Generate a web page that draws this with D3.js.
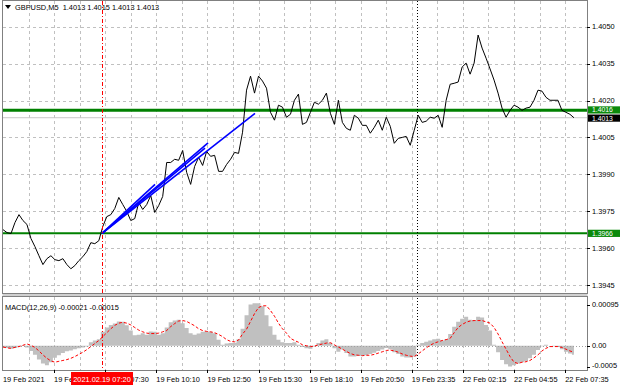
<!DOCTYPE html>
<html><head><meta charset="utf-8">
<script src="https://cdn.jsdelivr.net/npm/d3@7"></script>
<style>
html,body{margin:0;padding:0;background:#fff;}
svg{display:block;font-family:"Liberation Sans",Arial,sans-serif;}
</style></head><body>
<svg id="chart" width="620" height="388"></svg>
<script>
// GBPUSD M5 closes, one value every 2.5 bars
var closes = [
1.39675,1.39663,1.39659,1.39704,1.39736,1.39712,1.39696,1.39639,1.39606,1.39569,
1.39533,1.39557,1.39569,1.39553,1.39549,1.39557,1.39533,1.39516,1.39529,1.39549,
1.39565,1.39586,1.39622,1.39618,1.39630,1.39688,1.39728,1.39736,1.39761,1.39806,
1.39777,1.39749,1.39712,1.39720,1.39785,1.39757,1.39777,1.39814,1.39745,1.39773,
1.39810,1.39948,1.39948,1.39961,1.39957,1.39997,1.39908,1.39859,1.39932,1.39969,
1.39936,1.39993,1.39973,1.39977,1.39912,1.39912,1.39940,1.39961,1.39989,1.39985,
1.40071,1.40242,1.40299,1.40230,1.40299,1.40279,1.40250,1.40152,1.40120,1.40181,
1.40173,1.40132,1.40144,1.40201,1.40226,1.40103,1.40111,1.40152,1.40193,1.40185,
1.40201,1.40230,1.40148,1.40103,1.40201,1.40111,1.40087,1.40079,1.40140,1.40128,
1.40099,1.40099,1.40067,1.40091,1.40120,1.40079,1.40132,1.40095,1.40026,1.40046,
1.40050,1.40054,1.40018,1.40079,1.40140,1.40111,1.40116,1.40132,1.40128,1.40140,
1.40091,1.40201,1.40266,1.40270,1.40275,1.40336,1.40352,1.40307,1.40352,1.40466,
1.40413,1.40372,1.40328,1.40283,1.40230,1.40169,1.40132,1.40160,1.40181,1.40173,
1.40160,1.40169,1.40173,1.40201,1.40242,1.40238,1.40213,1.40201,1.40201,1.40201,
1.40160,1.40152,1.40144,1.40130
];
var macdHist = [
-0.00004,-0.00005,-0.00007,-0.00005,-0.00002,0.00001,-0.00004,-0.00012,-0.00021,-0.00032,
-0.00041,-0.00045,-0.00038,-0.00028,-0.00022,-0.00017,-0.00013,-0.00011,-0.00008,-0.00006,
-0.00004,-0.00002,0.00008,0.00012,0.00015,0.00032,0.00042,0.00048,0.00051,0.00056,
0.00055,0.00047,0.00035,0.00024,0.00025,0.00029,0.00025,0.00033,0.00032,0.00025,
0.00029,0.00042,0.00054,0.00058,0.00060,0.00052,0.00041,0.00029,0.00025,0.00028,
0.00032,0.00033,0.00032,0.00029,0.00014,0.00002,0.00005,0.00006,0.00007,0.00015,
0.00039,0.00070,0.00095,0.00098,0.00098,0.00091,0.00070,0.00045,0.00025,0.00014,
0.00008,0.00006,0.00006,0.00008,0.00002,-0.00003,-0.00006,-0.00007,-0.00002,0.00006,
0.00012,0.00015,0.00006,-0.00006,-0.00014,-0.00009,-0.00017,-0.00025,-0.00025,-0.00024,
-0.00023,-0.00022,-0.00019,-0.00016,-0.00012,-0.00009,-0.00005,-0.00008,-0.00015,-0.00019,
-0.00025,-0.00027,-0.00027,-0.00025,0.00002,0.00006,0.00009,0.00012,0.00015,0.00016,
0.00012,0.00015,0.00027,0.00044,0.00055,0.00062,0.00067,0.00060,0.00059,0.00067,
0.00065,0.00048,0.00035,0.00002,-0.00015,-0.00033,-0.00043,-0.00048,-0.00045,-0.00041,
-0.00038,-0.00035,-0.00029,-0.00021,-0.00010,-0.00001,0.00002,0.00000,-0.00001,-0.00003,
-0.00008,-0.00014,-0.00018,-0.00021
];
var macdSignal = [
-0.00003,-0.00005,-0.00006,-0.00004,-0.00002,0.00001,0.00004,0.00001,-0.00004,-0.00012,
-0.00021,-0.00029,-0.00035,-0.00038,-0.00036,-0.00034,-0.00032,-0.00029,-0.00025,-0.00020,
-0.00015,-0.00009,-0.00002,0.00005,0.00012,0.00021,0.00030,0.00039,0.00047,0.00052,
0.00054,0.00052,0.00048,0.00042,0.00036,0.00032,0.00029,0.00028,0.00028,0.00029,
0.00032,0.00035,0.00044,0.00051,0.00057,0.00058,0.00056,0.00051,0.00046,0.00039,
0.00035,0.00033,0.00032,0.00030,0.00026,0.00021,0.00014,0.00010,0.00009,0.00013,
0.00027,0.00038,0.00056,0.00074,0.00088,0.00092,0.00092,0.00081,0.00068,0.00052,
0.00039,0.00029,0.00017,0.00012,0.00008,0.00002,0.00000,-0.00002,-0.00001,0.00002,
0.00004,0.00006,0.00007,0.00002,-0.00003,-0.00008,-0.00013,-0.00018,-0.00021,-0.00022,
-0.00023,-0.00022,-0.00022,-0.00020,-0.00017,-0.00014,-0.00011,-0.00010,-0.00012,-0.00015,
-0.00019,-0.00022,-0.00024,-0.00025,-0.00019,-0.00012,-0.00005,0.00001,0.00006,0.00009,
0.00012,0.00014,0.00017,0.00030,0.00042,0.00049,0.00054,0.00057,0.00058,0.00058,
0.00058,0.00055,0.00052,0.00042,0.00027,0.00009,-0.00008,-0.00025,-0.00038,-0.00041,
-0.00038,-0.00037,-0.00034,-0.00028,-0.00021,-0.00012,-0.00006,-0.00002,-0.00002,-0.00002,
-0.00004,-0.00008,-0.00012,-0.00015
];
var STEP = 2.5; // bars between samples

var priceTicks = [1.4050, 1.4035, 1.4020, 1.4005, 1.3990, 1.3975, 1.3960, 1.3945];
var macdTicks = [0.00095, 0, -0.0005];
var macdTickLabels = ['0.00095', '0.00', '-0.0005'];
var firstLabel = '19 Feb 2021';
var timeLabels = ['19 Feb 04:50', '19 Feb 07:30', '19 Feb 10:10', '19 Feb 12:50', '19 Feb 15:30',
  '19 Feb 18:10', '19 Feb 20:50', '19 Feb 23:35', '22 Feb 02:15', '22 Feb 04:55', '22 Feb 07:35'];
var gridEvery = 16, labelEvery = 32;

var levelMain = 1.4016, levelLow = 1.3966, bid = 1.4013;
var cursorBar = 62, cursorLabel = '2021.02.19 07:20';
var dayBar = 259;
var trendStart = [62, 1.3966];
var trendEnds = [[95.2, 1.39859], [126.5, 1.40006], [128.4, 1.40028], [157.8, 1.40148]];
var title = 'GBPUSD,M5  1.4013 1.4015 1.4013 1.4013';
var macdTitle = 'MACD(12,26,9) -0.00021 -0.00015';

// layout
var L = 3, R = 587, mainT = 1, mainB = 293, macdT = 297, macdB = 370;
var FS = 7.4;

var x = d3.scaleLinear().domain([0, 360]).range([3, 3 + 360 * 1.597]);
var y = d3.scaleLinear().domain([1.3945, 1.4050]).range([285, 26.7]);
var ym = d3.scaleLinear().domain([-0.00056, 0.00110]).range([macdB, macdT + 1]);

var svg = d3.select('#chart');
svg.append('rect').attr('width', 620).attr('height', 388).attr('fill', '#fff');

var defs = svg.append('defs');
defs.append('clipPath').attr('id', 'cMain').append('rect')
  .attr('x', L).attr('y', mainT).attr('width', R - L).attr('height', mainB - mainT);
defs.append('clipPath').attr('id', 'cMacd').append('rect')
  .attr('x', L).attr('y', macdT).attr('width', R - L).attr('height', macdB - macdT);

var gridBars = d3.range(gridEvery, 360, gridEvery);
var grid = svg.append('g').attr('stroke', '#c0c0c0').attr('stroke-dasharray', '3,3').attr('stroke-width', 1);
grid.selectAll('.vg').data(gridBars).enter().append('line')
  .attr('x1', function(d) { return Math.round(x(d)) + 0.5; })
  .attr('x2', function(d) { return Math.round(x(d)) + 0.5; })
  .attr('y1', mainT).attr('y2', mainB);
grid.selectAll('.vg2').data(gridBars).enter().append('line')
  .attr('x1', function(d) { return Math.round(x(d)) + 0.5; })
  .attr('x2', function(d) { return Math.round(x(d)) + 0.5; })
  .attr('y1', macdT).attr('y2', macdB);
grid.selectAll('.hg').data(priceTicks).enter().append('line')
  .attr('x1', L).attr('x2', R)
  .attr('y1', function(d) { return Math.round(y(d)) + 0.5; })
  .attr('y2', function(d) { return Math.round(y(d)) + 0.5; });

// MACD panel
var gm = svg.append('g').attr('clip-path', 'url(#cMacd)');
gm.append('path').datum(macdHist)
  .attr('d', d3.area().curve(d3.curveStep)
    .x(function(d, i) { return x(i * STEP); })
    .y0(ym(0)).y1(function(d) { return ym(d); }))
  .attr('fill', '#c0c0c0');
gm.append('line').attr('x1', L).attr('x2', R)
  .attr('y1', Math.round(ym(0)) + 0.5).attr('y2', Math.round(ym(0)) + 0.5)
  .attr('stroke', '#a0a0a0').attr('stroke-dasharray', '1,2');
gm.append('path').datum(macdSignal)
  .attr('d', d3.line().x(function(d, i) { return x(i * STEP); }).y(function(d) { return ym(d); }))
  .attr('fill', 'none').attr('stroke', '#ff0000').attr('stroke-width', 1).attr('stroke-dasharray', '3,2');

// main panel
var g = svg.append('g').attr('clip-path', 'url(#cMain)');
g.append('line').attr('x1', L).attr('x2', R)
  .attr('y1', y(bid)).attr('y2', y(bid)).attr('stroke', '#c8c8c8').attr('stroke-width', 1);
g.append('line').attr('x1', L).attr('x2', R)
  .attr('y1', y(levelMain)).attr('y2', y(levelMain)).attr('stroke', '#008000').attr('stroke-width', 3);
g.append('line').attr('x1', L).attr('x2', R)
  .attr('y1', y(levelLow)).attr('y2', y(levelLow)).attr('stroke', '#008000').attr('stroke-width', 2);

g.append('path').datum(closes)
  .attr('d', d3.line().x(function(d, i) { return x(i * STEP); }).y(function(d) { return y(d); }))
  .attr('fill', 'none').attr('stroke', '#000').attr('stroke-width', 1);

g.selectAll('line.tr').data(trendEnds).enter().append('line')
  .attr('x1', x(trendStart[0])).attr('y1', y(trendStart[1]))
  .attr('x2', function(d) { return x(d[0]); })
  .attr('y2', function(d) { return y(d[1]); })
  .attr('stroke', '#0000ff').attr('stroke-width', 1.6);

// vertical markers across both panels
svg.append('line').attr('x1', Math.round(x(cursorBar)) + 0.5).attr('x2', Math.round(x(cursorBar)) + 0.5)
  .attr('y1', mainT).attr('y2', macdB)
  .attr('stroke', '#ff0000').attr('stroke-dasharray', '4,2,1,2');
svg.append('line').attr('x1', Math.round(x(dayBar)) + 0.5).attr('x2', Math.round(x(dayBar)) + 0.5)
  .attr('y1', mainT).attr('y2', macdB)
  .attr('stroke', '#000').attr('stroke-dasharray', '1,2');

// frames
svg.append('rect').attr('x', L - 0.5).attr('y', mainB).attr('width', R - L + 1).attr('height', macdT - mainB)
  .attr('fill', '#d0d0d0');
[[mainT, mainB], [macdT, macdB]].forEach(function(p) {
  svg.append('rect').attr('x', L - 0.5).attr('y', p[0] - 0.5).attr('width', R - L + 1).attr('height', p[1] - p[0] + 1)
    .attr('fill', 'none').attr('stroke', '#808080').attr('stroke-width', 1);
});

// right price axis
var ax = svg.append('g').attr('font-size', FS).attr('fill', '#000');
ax.selectAll('line.pt').data(priceTicks).enter().append('line')
  .attr('x1', R).attr('x2', R + 3)
  .attr('y1', function(d) { return Math.round(y(d)) + 0.5; }).attr('y2', function(d) { return Math.round(y(d)) + 0.5; })
  .attr('stroke', '#000');
ax.selectAll('text.pt').data(priceTicks).enter().append('text')
  .attr('x', R + 5).attr('y', function(d) { return y(d) + 2.7; })
  .text(function(d) { return d.toFixed(4); });

ax.selectAll('line.mt').data(macdTicks).enter().append('line')
  .attr('x1', R).attr('x2', R + 3)
  .attr('y1', function(d) { return Math.round(ym(d)) + 0.5; }).attr('y2', function(d) { return Math.round(ym(d)) + 0.5; })
  .attr('stroke', '#000');
ax.selectAll('text.mt').data(macdTicks).enter().append('text')
  .attr('x', R + 5).attr('y', function(d) { return Math.min(ym(d), 365) + 2.7; })
  .text(function(d, i) { return macdTickLabels[i]; });

// price tags
function tag(v, fill, dy) {
  var cy = y(v) + dy;
  ax.append('rect').attr('x', R + 1).attr('y', cy - 3.6).attr('width', 620 - R - 1).attr('height', 7.2).attr('fill', fill);
  ax.append('text').attr('x', R + 5).attr('y', cy + 2.4).attr('font-size', 6.8).attr('fill', '#fff').text(v.toFixed(4));
}
tag(levelMain, '#0b8a0b', -0.4);
tag(bid, '#000', 0.4);
tag(levelLow, '#0b8a0b', 0);

// time axis
var tb = timeLabels.map(function(t, j) { return { bar: labelEvery * (j + 1), t: t }; });
ax.selectAll('line.tt').data(tb).enter().append('line')
  .attr('x1', function(d) { return Math.round(x(d.bar)) + 0.5; })
  .attr('x2', function(d) { return Math.round(x(d.bar)) + 0.5; })
  .attr('y1', macdB).attr('y2', macdB + 3).attr('stroke', '#000');
ax.selectAll('text.tt').data(tb).enter().append('text')
  .attr('x', function(d) { return x(d.bar); }).attr('y', 382)
  .text(function(d) { return d.t; });
ax.append('text').attr('x', L).attr('y', 382).text(firstLabel);

var cx = x(cursorBar);
ax.append('rect').attr('x', cx - 31).attr('y', 372).attr('width', 62).attr('height', 13).attr('fill', '#ff0000');
ax.append('text').attr('x', cx).attr('y', 382).attr('text-anchor', 'middle').attr('fill', '#fff').text(cursorLabel);

// titles
svg.append('path').attr('d', 'M5,5 L11,5 L8,9 Z').attr('fill', '#000');
svg.append('text').attr('x', 15).attr('y', 10).attr('font-size', FS).attr('xml:space', 'preserve')
  .style('white-space', 'pre').text(title);
svg.append('text').attr('x', 5).attr('y', 309.5).attr('font-size', FS).text(macdTitle);
</script></body></html>
